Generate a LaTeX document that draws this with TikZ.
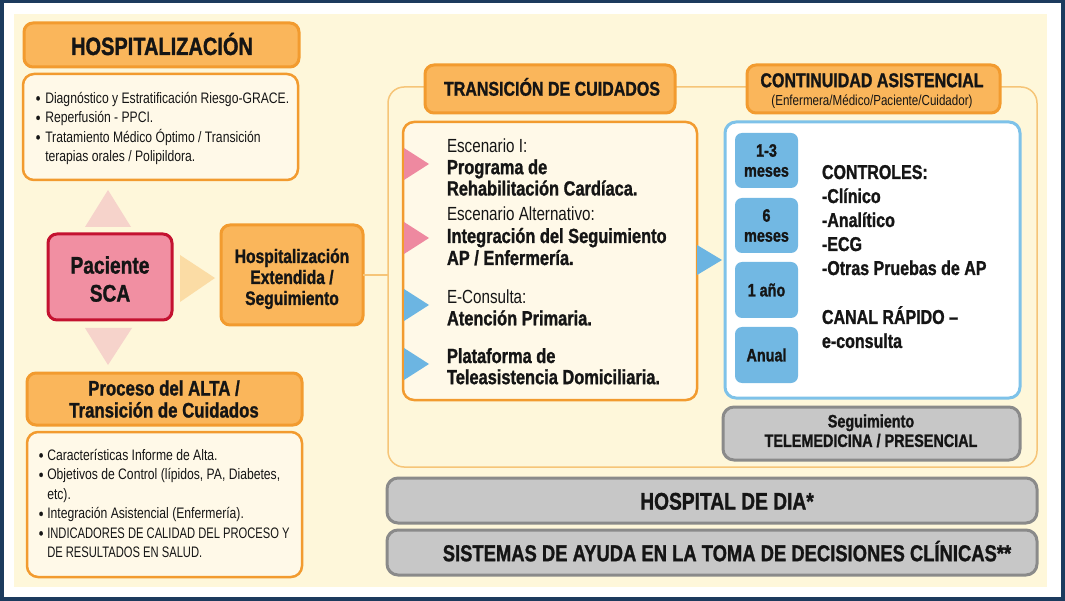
\documentclass[tikz,border=0pt]{standalone}
\usepackage{fontspec}
\usepackage{graphicx}
\setmainfont{Liberation Sans}[FakeStretch=0.8, BoldFeatures={FakeBold=1.2}]
\usetikzlibrary{calc}
\newcommand{\fsz}[2]{\fontsize{#1}{#2}\selectfont}
\newcommand{\mlines}[2]{\begin{tabular}[t]{@{}#1@{}}#2\end{tabular}}
\newcommand{\blt}{\textbf{•}}
\newcommand{\narrow}[1]{\scalebox{0.92}[1]{#1}}
\definecolor{navy}{HTML}{1C3B5E}
\definecolor{bgy}{HTML}{FEF7DA}
\definecolor{ofill}{HTML}{FAB65B}
\definecolor{oline}{HTML}{F29B2F}
\definecolor{cream}{HTML}{FFF9E8}
\definecolor{pfill}{HTML}{F18FA2}
\definecolor{rline}{HTML}{C41230}
\definecolor{fpink}{HTML}{F6D3CB}
\definecolor{fpeach}{HTML}{FBDCA5}
\definecolor{cline}{HTML}{F6C578}
\definecolor{tpink}{HTML}{EE89A0}
\definecolor{tblue}{HTML}{6CB5E2}
\definecolor{bline}{HTML}{7EC2E9}
\definecolor{sblue}{HTML}{72B8E3}
\definecolor{gfill}{HTML}{C7C7C7}
\definecolor{gline}{HTML}{8A8A8A}
\definecolor{ink}{HTML}{151515}
\tikzset{
  box/.style={inner sep=0pt, outer sep=0pt},
  hdr/.style={box, fill=ofill, draw=oline, line width=3pt, rounded corners=9pt},
  listbox/.style={box, fill=cream, draw=oline, line width=2.5pt, rounded corners=11pt},
  pacbox/.style={box, fill=pfill, draw=rline, line width=3pt, rounded corners=9pt},
  contbox/.style={box, draw=cline, line width=1.5pt, rounded corners=16pt},
  whitebox/.style={box, fill=cream, draw=oline, line width=2.5pt, rounded corners=11pt},
  bluebox/.style={box, fill=white, draw=bline, line width=3pt, rounded corners=11pt},
  sbox/.style={box, fill=sblue, rounded corners=7pt, align=center, text=ink, font=\bfseries\fsz{18}{20}},
  graybox/.style={box, fill=gfill, draw=gline, line width=3pt, rounded corners=11pt},
  txt/.style={inner sep=0pt, outer sep=0pt, text=ink},
  link/.style={draw=cline, line width=1.5pt}
}
\begin{document}
\begin{tikzpicture}[x=1pt, y=-1pt]
\useasboundingbox (0,0) rectangle (1065,601);
\fill[white] (0,0) rectangle (1065,601);
\draw[navy, line width=4pt] (1.5,1.5) rectangle (1063,599);
\fill[bgy] (14,14) rectangle (1047,587);

% big container
\node[contbox, minimum width=649pt, minimum height=380pt] (cont) at (712.5,277) {};

% left column
\node[hdr, minimum width=275pt, minimum height=44pt] (hosp) at (161.5,45) {};
\node[txt, anchor=base, font=\bfseries\fsz{25}{28}] (hospt) at (162,55) {HOSPITALIZACIÓN};
\node[listbox, minimum width=275pt, minimum height=106pt] (list1) at (160.5,127) {};
\node[txt, anchor=base west, font=\fsz{15.2}{19.5}] (list1t) at (36,103.4)
 {\begin{tabular}[t]{@{}l@{\hspace{5pt}}l@{}}
 \blt & Diagnóstico y Estratificación Riesgo-GRACE.\\
 \blt & Reperfusión - PPCI.\\
 \blt & Tratamiento Médico Óptimo / Transición\\
   & terapias orales / Polipildora.
 \end{tabular}};

\fill[fpink] (85,227) -- (131,227) -- (108,190) -- cycle;
\node[pacbox, minimum width=124pt, minimum height=86pt] (pac) at (110,277) {};
\node[txt, anchor=base, font=\bfseries\fsz{24}{28}] (pact) at (110,273.6) {\mlines{c}{Paciente\\SCA}};
\fill[fpink] (85,328) -- (132,328) -- (108,365) -- cycle;
\fill[fpeach] (180,255) -- (180,302) -- (215,278) -- cycle;

\node[hdr, minimum width=142pt, minimum height=100pt] (he) at (292,275) {};
\node[txt, anchor=base, font=\bfseries\fsz{19.5}{21}] (het) at (292,263) {\mlines{c}{Hospitalización\\Extendida /\\Seguimiento}};
\draw[link] (he.east) -- (he.east -| cont.west);

\node[hdr, minimum width=275pt, minimum height=52pt] (proc) at (164.5,399) {};
\node[txt, anchor=base, font=\bfseries\fsz{21}{22}] (proct) at (164,395.5) {\mlines{c}{Proceso del ALTA /\\Transición de Cuidados}};
\node[listbox, minimum width=275pt, minimum height=145pt] (list2) at (164.5,504.5) {};
\node[txt, anchor=base west, font=\fsz{15.2}{19.5}] (list2t) at (39,460.4)
 {\begin{tabular}[t]{@{}l@{\hspace{4pt}}l@{}}
 \blt & Características Informe de Alta.\\
 \blt & Objetivos de Control (lípidos, PA, Diabetes,\\
   & etc).\\
 \blt & Integración Asistencial (Enfermería).\\
 \blt & \narrow{INDICADORES DE CALIDAD DEL PROCESO Y}\\
   & \narrow{DE RESULTADOS EN SALUD.}
 \end{tabular}};

% transition of care
\node[hdr, minimum width=250pt, minimum height=48pt] (trans) at (550,89) {};
\node[txt, anchor=base, font=\bfseries\fsz{20}{22}] (transt) at (552,95.7) {TRANSICIÓN DE CUIDADOS};
\node[whitebox, minimum width=294pt, minimum height=278pt] (white) at (550,261) {};
\fill[tpink] (404,148) -- (404,180) -- (429,164) -- cycle;
\fill[tpink] (404,222) -- (404,254) -- (429,238) -- cycle;
\fill[tblue] (404,289) -- (404,321) -- (429,305) -- cycle;
\fill[tblue] (404,348) -- (404,380) -- (429,364) -- cycle;
\node[txt, anchor=base west, font=\fsz{20.5}{21}] (g1) at (447,153)
 {\mlines{l}{{\fsz{19}{21}Escenario I:}\\ \bfseries Programa de\\ \bfseries Rehabilitación Cardíaca.}};
\node[txt, anchor=base west, font=\fsz{20.5}{22}] (g2) at (447,221)
 {\mlines{l}{{\fsz{19}{22}Escenario Alternativo:}\\ \bfseries Integración del Seguimiento\\ \bfseries AP / Enfermería.}};
\node[txt, anchor=base west, font=\fsz{20.5}{21}] (g3) at (447,304)
 {\mlines{l}{{\fsz{19}{21}E-Consulta:}\\ \bfseries Atención Primaria.}};
\node[txt, anchor=base west, font=\bfseries\fsz{20.5}{21}] (g4) at (447,363)
 {\mlines{l}{Plataforma de\\ Teleasistencia Domiciliaria.}};
\fill[tblue] (697,245) -- (697,275) -- (722,260) -- cycle;

% continuity
\node[hdr, minimum width=253pt, minimum height=48pt] (contin) at (873.5,89) {};
\node[txt, anchor=base, font=\bfseries\fsz{20}{22}] (contint) at (872,87.2) {CONTINUIDAD ASISTENCIAL};
\node[txt, anchor=base, font=\fsz{14.5}{16}] (contins) at (872,105.2) {(Enfermera/Médico/Paciente/Cuidador)};
\node[bluebox, minimum width=295pt, minimum height=276pt] (blue) at (872.5,260) {};
\node[sbox, minimum width=63pt, minimum height=55pt] (m1) at (766.5,160.5) {1-3\\meses};
\node[sbox, minimum width=63pt, minimum height=55pt] (m2) at (766.5,225.5) {6\\meses};
\node[sbox, minimum width=63pt, minimum height=56pt] (m3) at (766.5,290) {1 año};
\node[sbox, minimum width=63pt, minimum height=56pt] (m4) at (766.5,355) {Anual};
\node[txt, anchor=base west, font=\bfseries\fsz{20}{24}] (ctrl) at (822,179)
 {\mlines{l}{CONTROLES:\\-Clínico\\-Analítico\\-ECG\\-Otras Pruebas de AP\\ \\CANAL RÁPIDO –\\e-consulta}};
\node[graybox, minimum width=297pt, minimum height=53pt] (seg) at (871.5,433.5) {};
\node[txt, anchor=base, font=\bfseries\fsz{18}{19.5}] (segt) at (871,427.4) {\mlines{c}{Seguimiento\\TELEMEDICINA / PRESENCIAL}};

% bottom bars
\node[graybox, minimum width=650pt, minimum height=45pt] (hdia) at (712,500.5) {};
\node[txt, anchor=base, font=\bfseries\fsz{24}{25}] (hdiat) at (727,509.6) {HOSPITAL DE DIA*};
\node[graybox, minimum width=650pt, minimum height=45pt] (sist) at (712,552.5) {};
\node[txt, anchor=base, font=\bfseries\fsz{23}{25}] (sistt) at (727,561.2) {SISTEMAS DE AYUDA EN LA TOMA DE DECISIONES CLÍNICAS**};
\end{tikzpicture}
\end{document}
